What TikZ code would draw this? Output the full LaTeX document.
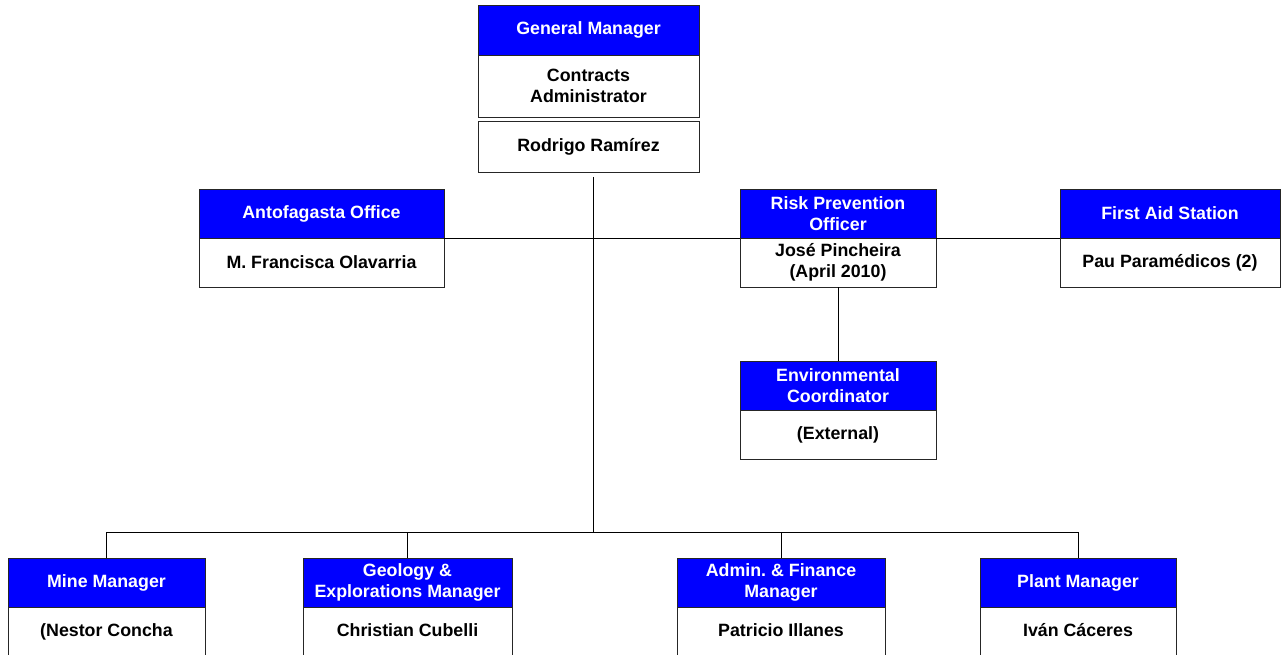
\documentclass[tikz,border=0pt]{standalone}
\usepackage{fontspec}
\setmainfont{Liberation Sans}
\definecolor{hdrblue}{RGB}{0,0,255}
\frenchspacing
\begin{document}
\begin{tikzpicture}[x=1pt,y=-1pt,
  box/.style={draw=black!85, line width=0.8pt, anchor=north west, inner sep=0pt, outer sep=0pt,
    align=center, font=\fontsize{17.8}{21.5}\selectfont\bfseries},
  hdr/.style={box, fill=hdrblue, text=white},
  body/.style={box, fill=white, text=black},
  cutbody/.style={body, minimum height=53pt, text height=12pt, text depth=6pt},
  conn/.style={draw=black, line width=0.8pt}]
\clip (0,0) rectangle (1285,655);
\fill[white] (0,0) rectangle (1285,655);

% top
\node[hdr, minimum width=221pt, minimum height=50pt] (gmH) at (478,5) {General Manager};
\node[body, minimum width=221pt, minimum height=62pt] (gmB) at (478,55) {Contracts\\Administrator};
\node[body, minimum width=221pt, minimum height=51pt] (rod) at (478,121) {Rodrigo Ramírez};

% middle row
\node[hdr, minimum width=245pt, minimum height=49pt] (antH) at (199,189) {Antofagasta Office};
\node[body, minimum width=245pt, minimum height=49pt] (antB) at (199,238) {M. Francisca Olavarria};

\node[hdr, minimum width=196pt, minimum height=49pt] (riskH) at (740,189) {Risk Prevention\\Officer};
\node[body, minimum width=196pt, minimum height=49pt] (riskB) at (740,238) {José Pincheira\\(April 2010)};

\node[hdr, minimum width=220pt, minimum height=49pt] (faH) at (1060,189) {First Aid Station};
\node[body, minimum width=220pt, minimum height=49pt] (faB) at (1060,238) {Pau Paramédicos (2)};

\node[hdr, minimum width=196pt, minimum height=49pt] (envH) at (740,361) {Environmental\\Coordinator};
\node[body, minimum width=196pt, minimum height=49pt] (envB) at (740,410) {(External)};

% bottom row (cut off at the lower edge)
\node[hdr, minimum width=197pt, minimum height=49pt] (mineH) at (8,558) {Mine Manager};
\node[cutbody, minimum width=197pt] (mineB) at (8,607) {(Nestor Concha};

\node[hdr, minimum width=209pt, minimum height=49pt] (geoH) at (303,558) {Geology \&\\Explorations Manager};
\node[cutbody, minimum width=209pt] (geoB) at (303,607) {Christian Cubelli};

\node[hdr, minimum width=208pt, minimum height=49pt] (admH) at (677,558) {Admin. \& Finance\\Manager};
\node[cutbody, minimum width=208pt] (admB) at (677,607) {Patricio Illanes};

\node[hdr, minimum width=196pt, minimum height=49pt] (plantH) at (980,558) {Plant Manager};
\node[cutbody, minimum width=196pt] (plantB) at (980,607) {Iván Cáceres};

% connectors
\coordinate (top) at ([xshift=4.5pt,yshift=-5pt]rod.south);
\coordinate (jn) at (top |- 0,532);
\draw[conn] (top) -- (jn);
\draw[conn] (antH.south east) -- (riskH.south west);
\draw[conn] (riskH.south east) -- (faH.south west);
\draw[conn] (riskB.south) -- (envH.north);
\draw[conn] (mineH.north) -- (mineH.north |- jn) -- (plantH.north |- jn) -- (plantH.north);
\draw[conn] (geoH.north) -- (geoH.north |- jn);
\draw[conn] (admH.north) -- (admH.north |- jn);
\end{tikzpicture}
\end{document}
